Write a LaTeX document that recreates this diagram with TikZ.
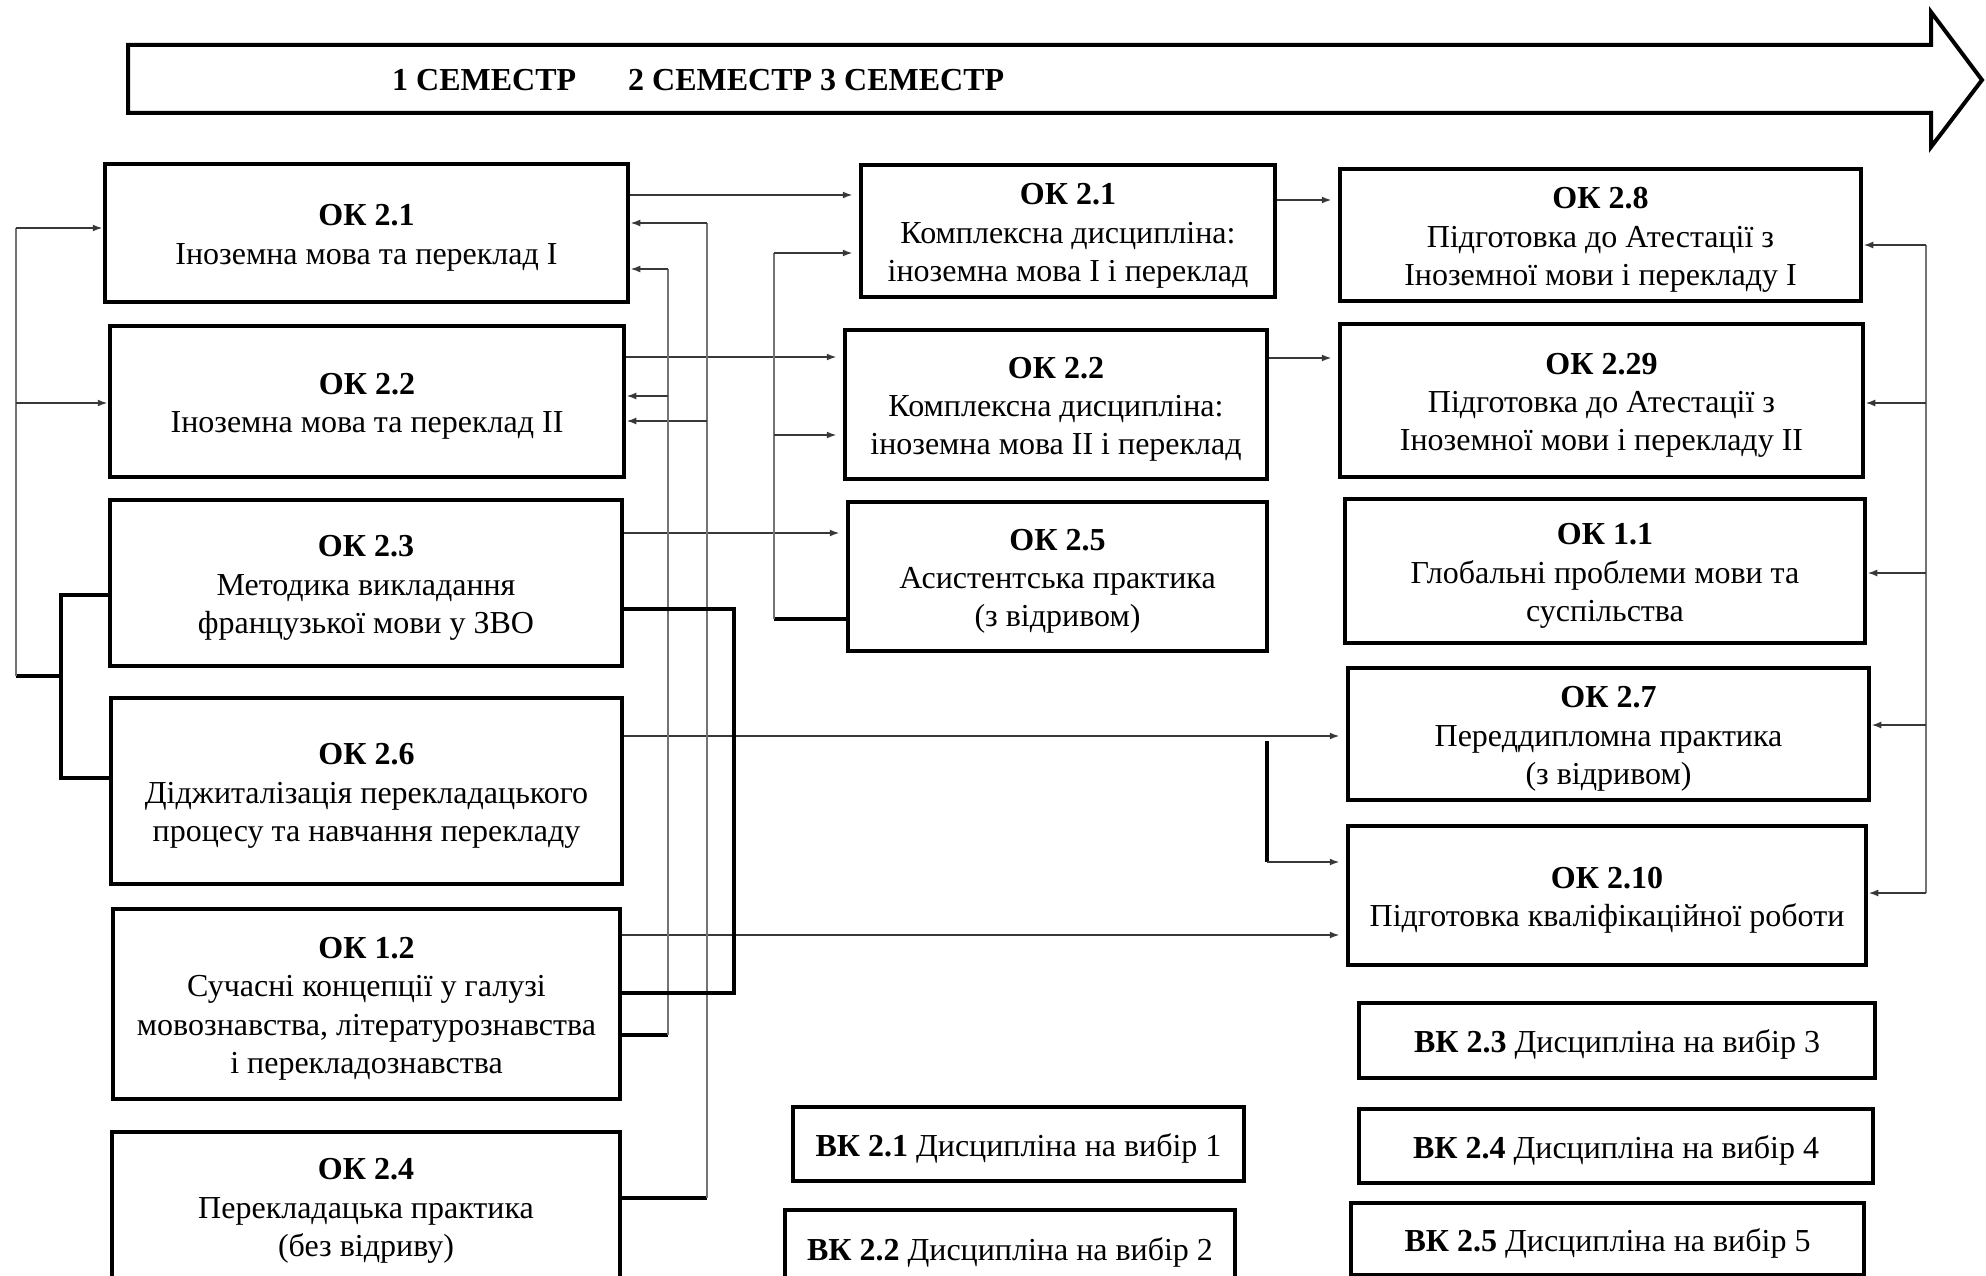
\documentclass[tikz,border=0pt]{standalone}
\usepackage{fontspec}
\setmainfont{Liberation Serif}
\usetikzlibrary{arrows.meta}
\newcommand\hd[1]{\rule{0pt}{31pt}\textbf{#1}}

\begin{document}
\begin{tikzpicture}[x=1pt,y=-1pt]
   \tikzstyle{every node}=[font=\fontsize{32}{38.4}\selectfont, align=center, inner sep=0pt]
   \tikzstyle{box}=[draw, rectangle, line width=4.5pt]
   \tikzstyle{link}=[draw=black!78, line width=2.2pt]
   \tikzstyle{bus}=[draw=black!55, line width=2pt]
   \tikzstyle{heavy}=[draw=black, line width=3.2pt]
   \tikzstyle{arr}=[link, -{Latex[length=10pt,width=7pt]}]
   \tikzstyle{fwd}=[arr, shorten >=6pt]

\useasboundingbox (0,0) rectangle (1986,1276);
\clip (0,0) rectangle (1986,1276);

\draw[line width=4pt] (128,45) -- (1931,45) -- (1931,12) -- (1982,80) -- (1931,147) -- (1931,113) -- (128,113) -- cycle;
\node[font=\fontsize{32}{36}\selectfont\bfseries, anchor=west] (sem) at (392,80) {1 СЕМЕСТР\hspace{52pt}2 СЕМЕСТР 3 СЕМЕСТР};

\node[box, minimum width=523, minimum height=138] (L21) at (366.5,233) {\hd{ОК 2.1}\\Іноземна мова та переклад І};
\node[box, minimum width=514, minimum height=151] (L22) at (367,401.5) {\hd{ОК 2.2}\\Іноземна мова та переклад ІІ};
\node[box, minimum width=512, minimum height=166] (L23) at (366,583) {\hd{ОК 2.3}\\Методика викладання\\французької мови у ЗВО};
\node[box, minimum width=511, minimum height=186] (L26) at (366.5,791) {\hd{ОК 2.6}\\Діджиталізація перекладацького\\процесу та навчання перекладу};
\node[box, minimum width=507, minimum height=190] (L12) at (366.5,1004) {\hd{ОК 1.2}\\Сучасні концепції у галузі\\мовознавства, літературознавства\\і перекладознавства};
\node[box, minimum width=508, minimum height=148] (L24) at (366,1206) {\hd{ОК 2.4}\\Перекладацька практика\\(без відриву)};

\node[box, minimum width=414, minimum height=132] (M21) at (1068,231) {\hd{ОК 2.1}\\Комплексна дисципліна:\\іноземна мова І і переклад};
\node[box, minimum width=422, minimum height=149] (M22) at (1056,404.5) {\hd{ОК 2.2}\\Комплексна дисципліна:\\іноземна мова ІІ і переклад};
\node[box, minimum width=419, minimum height=149] (M25) at (1057.5,576.5) {\hd{ОК 2.5}\\Асистентська практика\\(з відривом)};

\node[box, minimum width=521, minimum height=132] (R28) at (1600.5,235) {\hd{ОК 2.8}\\Підготовка до Атестації з\\Іноземної мови і перекладу І};
\node[box, minimum width=523, minimum height=153] (R229) at (1601.5,400.5) {\hd{ОК 2.29}\\Підготовка до Атестації з\\Іноземної мови і перекладу ІІ};
\node[box, minimum width=520, minimum height=144] (R11) at (1605,571) {\hd{ОК 1.1}\\Глобальні проблеми мови та\\суспільства};
\node[box, minimum width=521, minimum height=132] (R27) at (1608.5,734) {\hd{ОК 2.7}\\Переддипломна практика\\(з відривом)};
\node[box, minimum width=518, minimum height=139] (R210) at (1607,895.5) {\hd{ОК 2.10}\\Підготовка кваліфікаційної роботи};

\node[box, minimum width=516, minimum height=75] (V23) at (1617,1040.5) {\hd{ВК 2.3} Дисципліна на вибір 3};
\node[box, minimum width=514, minimum height=74] (V24) at (1616,1146) {\hd{ВК 2.4} Дисципліна на вибір 4};
\node[box, minimum width=513, minimum height=72] (V25) at (1607.5,1239) {\hd{ВК 2.5} Дисципліна на вибір 5};
\node[box, minimum width=451, minimum height=74] (V21) at (1018.5,1144) {\hd{ВК 2.1} Дисципліна на вибір 1};
\node[box, minimum width=450, minimum height=76] (V22) at (1010,1248) {\hd{ВК 2.2} Дисципліна на вибір 2};

\draw[fwd] (L21.east |- 0,195) -- (M21.west |- 0,195);
\draw[fwd] (L22.east |- 0,357) -- (M22.west |- 0,357);
\draw[fwd] (L23.east |- 0,533) -- (M25.west |- 0,533);
\draw[fwd] (M21.east |- 0,200) -- (R28.west |- 0,200);
\draw[fwd] (M22.east |- 0,358) -- (R229.west |- 0,358);
\draw[fwd] (L26.east |- 0,736) -- (R27.west |- 0,736);
\draw[fwd] (L12.east |- 0,935) -- (R210.west |- 0,935);

\coordinate (a24) at (707,223);
\draw[heavy] (L24.east |- 0,1198) -- (a24 |- 0,1198);
\draw[bus] (a24 |- 0,1198) -- (a24);
\draw[arr] (a24) -- (L21.east |- 0,223);
\draw[arr] (a24 |- 0,421) -- (L22.east |- 0,421);

\coordinate (a12) at (668,269);
\draw[heavy] (L12.east |- 0,1035) -- (a12 |- 0,1035);
\draw[bus] (a12 |- 0,1035) -- (a12);
\draw[arr] (a12) -- (L21.east |- 0,269);
\draw[arr] (a12 |- 0,396) -- (L22.east |- 0,396);

\draw[heavy] (L23.east |- 0,609) -| (734,993) -- (L12.east |- 0,993);

\coordinate (a25) at (774,253);
\draw[heavy] (M25.west |- 0,619) -- (a25 |- 0,619);
\draw[bus] (a25 |- 0,619) -- (a25);
\draw[fwd] (a25) -- (M21.west |- 0,253);
\draw[fwd] (a25 |- 0,435) -- (M22.west |- 0,435);

\coordinate (a210) at (1267,741);
\draw[heavy] (a210) -- (1267,862);
\draw[fwd] (1267,862) -- (R210.west |- 0,862);

\coordinate (rb) at (1926,245);
\draw[bus] (rb) -- (1926,893);
\draw[arr] (rb) -- (R28.east |- 0,245);
\draw[arr] (rb |- 0,403) -- (R229.east |- 0,403);
\draw[arr] (rb |- 0,573) -- (R11.east |- 0,573);
\draw[arr] (rb |- 0,725) -- (R27.east |- 0,725);
\draw[arr] (rb |- 0,893) -- (R210.east |- 0,893);

\coordinate (lb) at (16,228);
\draw[heavy] (L23.west |- 0,595) -| (61,778) -- (L26.west |- 0,778);
\draw[heavy] (61,676) -- (lb |- 0,676);
\draw[bus] (lb |- 0,676) -- (lb);
\draw[arr] (lb) -- (L21.west |- 0,228);
\draw[arr] (lb |- 0,403) -- (L22.west |- 0,403);

\end{tikzpicture}
\end{document}
